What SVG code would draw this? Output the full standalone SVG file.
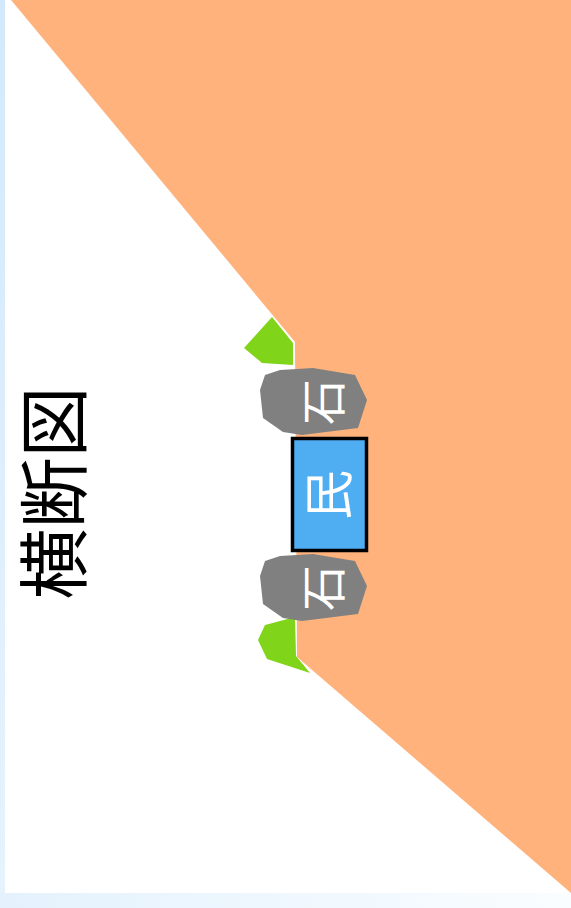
<svg xmlns="http://www.w3.org/2000/svg" width="571" height="908" viewBox="0 0 571 908">
  <defs>
    <linearGradient id="bandLeft" x1="0" y1="0" x2="0" y2="1">
      <stop offset="0" stop-color="#D3E9FB"/>
      <stop offset="1" stop-color="#E6F3FD"/>
    </linearGradient>
    <linearGradient id="bandBottom" x1="0" y1="0" x2="1" y2="0">
      <stop offset="0" stop-color="#E4F2FD"/>
      <stop offset="1" stop-color="#FAFDFF"/>
    </linearGradient>
    <style>
      .ground { fill: #FFB27B; }
      .grass { fill: #80D41A; }
      .stone { fill: #808080; }
      .house { fill: #4FADF2; stroke: #000000; stroke-width: 3.5; }
      .cjk { font-family: "Noto Sans CJK JP", "Noto Sans CJK SC", sans-serif; text-anchor: middle; dominant-baseline: central; }
      .label { fill: #FFFFFF; font-size: 46px; }
      .title { fill: #000000; font-size: 71px; }
    </style>
  </defs>

  <!-- page background and frame bands -->
  <rect x="0" y="0" width="571" height="908" fill="#FFFFFF"/>
  <rect x="0" y="0" width="5" height="908" fill="url(#bandLeft)"/>
  <rect x="0" y="893" width="571" height="15" fill="url(#bandBottom)"/>

  <!-- slope cross-section -->
  <g id="ground">
    <polygon class="ground" points="11,0 571,0 571,893 297,657 295,342"/>
  </g>

  <g id="grass-upper">
    <polygon class="grass" points="272,317 244,348 262,363 293,365 293,343"/>
  </g>
  <g id="grass-lower">
    <polygon class="grass" points="295,617 265,625 258,640 267,659 310,673 296,656"/>
  </g>

  <g id="stone-upper">
    <polygon class="stone" points="265,375 260,390 263,418 283,432 302,435 358,428 367,400 355,375 313,368 280,370"/>
    <text class="cjk label" transform="translate(320,402) rotate(-90)">石</text>
  </g>
  <g id="stone-lower">
    <polygon class="stone" points="265,561 260,576 263,604 283,618 302,621 358,614 367,586 355,561 313,554 280,556"/>
    <text class="cjk label" transform="translate(320,588) rotate(-90)">石</text>
  </g>

  <g id="house">
    <rect class="house" x="292.5" y="438.5" width="74" height="112"/>
    <text class="cjk label" style="font-size:50px" transform="translate(325,495) rotate(-90)">民</text>
  </g>

  <g id="title">
    <text class="cjk title" transform="translate(49,493) rotate(-90)">横断図</text>
  </g>
</svg>
